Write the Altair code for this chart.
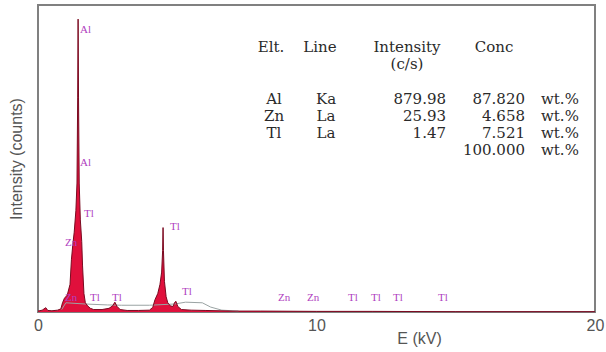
import altair as alt
import pandas as pd

# ---- spectrum (energy in kV, intensity in arbitrary counts) ----
energy = [0.0, 0.15, 0.28, 0.35, 0.5, 0.7, 0.82, 0.88, 0.95, 1.05, 1.15, 1.2, 1.25, 1.30,
          1.36, 1.40, 1.425, 1.44, 1.455, 1.48, 1.52, 1.57, 1.6, 1.65, 1.7, 1.78, 1.88, 2.0,
          2.3, 2.55, 2.68, 2.76, 2.84, 2.95, 3.2, 3.6, 4.0, 4.12, 4.2, 4.3, 4.38, 4.44,
          4.475, 4.49, 4.505, 4.54, 4.6, 4.66, 4.75, 4.85, 4.9, 4.95, 5.02, 5.15, 5.5,
          6.0, 7.0, 8.0, 10.0, 12.0, 15.0, 20.0]
counts = [3, 6, 14, 5, 4, 6, 10, 30, 45, 55, 90, 170, 220, 260,
          330, 420, 700, 954, 700, 420, 300, 230, 150, 60, 30, 20, 12, 8,
          8, 12, 20, 32, 18, 8, 5, 5, 6, 15, 40, 60, 90, 130,
          200, 275, 200, 100, 50, 30, 20, 18, 30, 35, 18, 8, 6,
          5, 3, 3, 2, 2, 1, 1]

# ---- background fit ----
bg_energy = [0.85, 1.0, 1.7, 2.5, 3.0, 4.0, 4.9, 5.3, 5.9, 6.2, 6.6, 7.2]
bg_counts = [8, 30, 26, 23, 22, 22, 26, 32, 30, 16, 6, 3]

# ---- peak labels ----
lab_text = ["Al", "Al", "Tl", "Zn", "Zn", "Tl", "Tl", "Tl", "Tl",
            "Zn", "Zn", "Tl", "Tl", "Tl", "Tl"]
lab_energy = [1.51, 1.51, 1.65, 0.97, 0.97, 1.87, 2.66, 4.74, 5.17,
              8.62, 9.66, 11.13, 11.96, 12.75, 14.36]
lab_counts = [918, 485, 319, 225, 46, 46, 46, 277, 65,
              46, 46, 46, 46, 46, 46]

# ---- quantification table ----
header = ["Elt.", "Line", "Intensity", "Conc"]
elements = ["Al", "Zn", "Tl"]
lines = ["Ka", "La", "La"]
intensities = ["879.98", "25.93", "1.47"]
concs = ["87.820", "4.658", "7.521", "100.000"]
unit = "wt.%"

spec = pd.DataFrame({"E": energy, "I": counts})
bg = pd.DataFrame({"E": bg_energy, "I": bg_counts})
labs = pd.DataFrame({"t": lab_text, "E": lab_energy, "I": lab_counts})

# layout of table (pixels, relative to plot area)
L, T = 38, 5
hdr_x = [271, 320, 407, 494]
hdr_y = 47
row_y = [99, 116, 133, 150]

xs = alt.Scale(domain=[0, 20], nice=False)
ys = alt.Scale(domain=[0, 1000], nice=False)

X = alt.X("E:Q", scale=xs,
          axis=alt.Axis(values=[0, 10, 20], title="E (kV)", grid=False, ticks=False,
                        domain=False, labelFont="Liberation Sans", labelFontSize=16,
                        labelColor="#555555", labelPadding=5, labelFlush=False,
                        labelOverlap=False,
                        titleFont="Liberation Sans",
                        titleFontSize=16, titleFontWeight="normal", titleColor="#555555",
                        titleX=381, titleY=26, titleAlign="center", titleBaseline="middle"))
Y = alt.Y("I:Q", scale=ys,
          axis=alt.Axis(labels=False, ticks=False, grid=False, domain=False,
                        title="Intensity (counts)", titleFont="Liberation Sans",
                        titleFontSize=16, titleFontWeight="normal", titleColor="#555555",
                        titlePadding=14))

area = alt.Chart(spec).mark_area(color="#e0103c", opacity=1).encode(x=X, y=Y)
outline = alt.Chart(spec).mark_line(color="#7a0a20", strokeWidth=1).encode(x="E:Q", y="I:Q")
bgline = alt.Chart(bg).mark_line(color="#9aa3a3", strokeWidth=1).encode(x="E:Q", y="I:Q")
labels = alt.Chart(labs).mark_text(align="left", baseline="middle", font="Liberation Serif",
                                   fontSize=11, color="#b040c0").encode(
    x="E:Q", y="I:Q", text="t:N")

# table text layers
hdr = pd.DataFrame({"t": header + ["(c/s)"],
                    "px": [v - L for v in hdr_x] + [hdr_x[2] - L],
                    "py": [hdr_y - T] * 4 + [hdr_y + 17 - T]})
cen = pd.DataFrame({"t": elements + lines,
                    "px": [274 - L] * 3 + [326 - L] * 3,
                    "py": [y - T for y in row_y[:3]] * 2})
rgt = pd.DataFrame({"t": intensities + concs,
                    "px": [446 - L] * 3 + [525 - L] * 4,
                    "py": [y - T for y in row_y[:3]] + [y - T for y in row_y]})
lft = pd.DataFrame({"t": [unit] * 4, "px": [541 - L] * 4, "py": [y - T for y in row_y]})

def tlayer(df, align):
    return alt.Chart(df).mark_text(align=align, baseline="middle", font="DejaVu Serif",
                                   fontSize=15, color="#2a2a2a").encode(
        x=alt.X("px:Q", scale=None), y=alt.Y("py:Q", scale=None), text="t:N")

chart = alt.layer(area, bgline, outline, labels,
                  tlayer(hdr, "center"), tlayer(cen, "center"),
                  tlayer(rgt, "right"), tlayer(lft, "left")).properties(
    width=557, height=307,
    padding={"left": 38, "top": 5, "right": 11, "bottom": 40},
    autosize=alt.AutoSizeParams(type="none"),
    background="white",
).configure_view(stroke="#808080", strokeWidth=2)

chart.save("out.html", embed_options={"renderer": "svg", "actions": False})
